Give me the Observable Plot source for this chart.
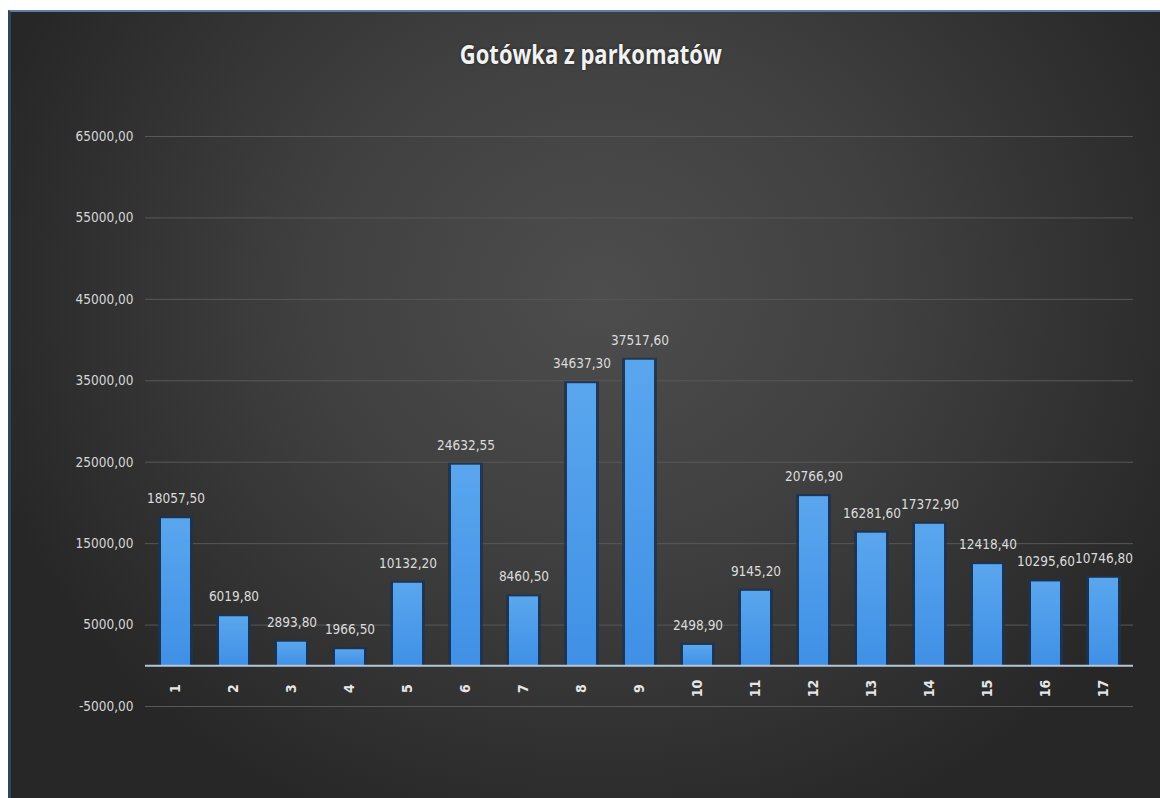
<!DOCTYPE html>
<html>
<head>
<meta charset="utf-8">
<script src="https://cdn.jsdelivr.net/npm/d3@7"></script>
<script src="https://cdn.jsdelivr.net/npm/@observablehq/plot@0.6"></script>
<style>
  html, body { margin: 0; padding: 0; background: #ffffff; width: 1160px; height: 798px; overflow: hidden; }
  #panel {
    position: absolute; left: 8px; top: 10px; width: 1149px; height: 786px;
    border-top: 2px solid #5d7fa3; border-left: 3px solid #2c4560;
    background:
      radial-gradient(ellipse 640px 580px at 590px 280px, #4d4d4d 0%, #404040 45%, #303030 80%, #272727 100%);
    overflow: hidden;
  }
  #title {
    height: 88px; box-sizing: border-box; padding-top: 26px; text-align: center;
    padding-left: 10px;
  }
  #title span {
    display: inline-block; transform-origin: 50% 50%;
    font-family: "Open Sans", "DejaVu Sans", sans-serif;
    font-weight: bold; font-size: 27px; color: #f2f2f2; line-height: 32px;
    text-shadow: 0 0 3px rgba(0,0,0,0.6);
  }
  #chart svg { display: block; }
</style>
</head>
<body>
<div id="panel">
  <div id="title"><span id="titleText">Gotówka z parkomatów</span></div>
  <div id="chart"></div>
</div>
<script>
const categories = ["1","2","3","4","5","6","7","8","9","10","11","12","13","14","15","16","17"];
const values = [18057.50, 6019.80, 2893.80, 1966.50, 10132.20, 24632.55, 8460.50, 34637.30, 37517.60, 2498.90, 9145.20, 20766.90, 16281.60, 17372.90, 12418.40, 10295.60, 10746.80];
const yTicks = [-5000, 5000, 15000, 25000, 35000, 45000, 55000, 65000];
const yDomain = [-5000, 65000];

const data = categories.map((c, i) => ({cat: c, value: values[i]}));
const fmt = d => d.toFixed(2).replace(".", ",");
const font = '"DejaVu Sans Condensed", "DejaVu Sans", sans-serif';

// narrow the title like the original condensed face
const t = document.getElementById("titleText");
const w = t.getBoundingClientRect().width;
t.style.transform = `scaleX(${262 / w})`;

const chart = Plot.plot({
  width: 1149,
  height: 698,
  marginLeft: 134,
  marginRight: 27,
  marginTop: 36,
  marginBottom: 92,
  style: {background: "transparent", color: "#d9d9d9", fontFamily: font, fontStretch: "condensed", fontSize: "13.5px"},
  x: {domain: categories, paddingInner: 0.5, paddingOuter: 0.22, label: null},
  y: {domain: yDomain, ticks: yTicks, label: null},
  marks: [
    Plot.ruleY(yTicks, {stroke: "#585858", strokeWidth: 1}),
    Plot.axisY({ticks: yTicks, tickFormat: fmt, tickSize: 0, tickPadding: 12, fill: "#d6d6d6", fontSize: 13.5, label: null}),
    Plot.barY(data, {x: "cat", y: "value", fill: "#1b3554", fillOpacity: 0.85, insetLeft: -3, insetRight: -3, insetTop: -2}),
    Plot.barY(data, {x: "cat", y: "value", fill: "url(#barGrad)"}),
    Plot.ruleY([0], {stroke: "#b4c6d8", strokeWidth: 2}),
    Plot.text(data, {x: "cat", y: "value", text: d => fmt(d.value), dy: -20, fill: "#dcdcdc", fontSize: 13.5}),
    Plot.axisX({tickRotate: -90, textAnchor: "middle", tickSize: 0, tickPadding: -18, fill: "#e6e6e6", fontSize: 14, fontWeight: "bold", label: null})
  ]
});

const svg = d3.select(chart);
const defs = svg.insert("defs", ":first-child");
const g = defs.append("linearGradient").attr("id", "barGrad").attr("x1", 0).attr("y1", 0).attr("x2", 0).attr("y2", 1);
g.append("stop").attr("offset", "0%").attr("stop-color", "#5aa6ee");
g.append("stop").attr("offset", "100%").attr("stop-color", "#3f90e6");

document.getElementById("chart").appendChild(chart);
</script>
</body>
</html>
